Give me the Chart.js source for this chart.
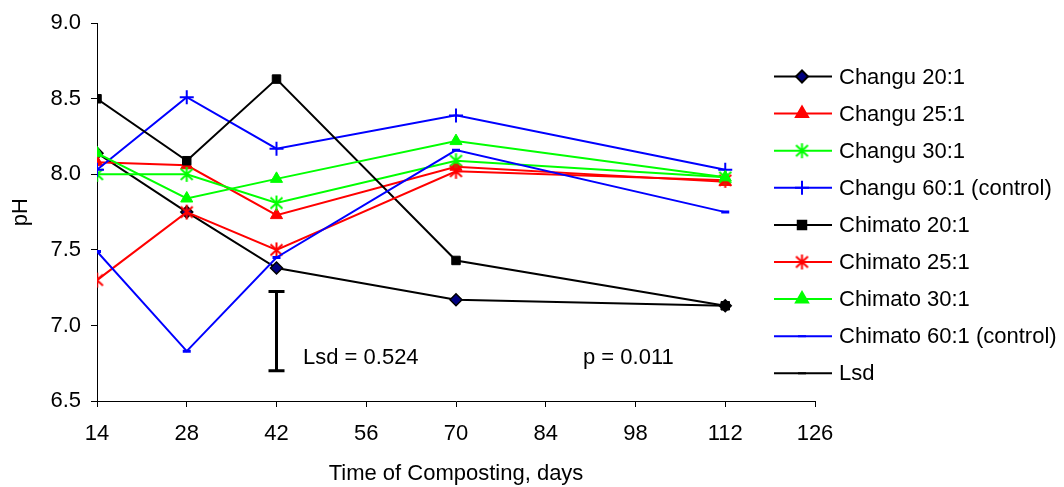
<!DOCTYPE html>
<html>
<head>
<meta charset="utf-8">
<script src="https://cdn.jsdelivr.net/npm/chart.js@4/dist/chart.umd.min.js"></script>
<style>
  html, body { margin: 0; padding: 0; background: #fff; }
  #c { display: block; }
</style>
</head>
<body>
<canvas id="c" width="1064" height="487"></canvas>
<script>
// ── Data (pH readings by day of composting) ────────────────
const days = [14, 28, 42, 70, 112];
const xTicks = [14, 28, 42, 56, 70, 84, 98, 112, 126];

const changu20  = [8.14, 7.75, 7.38, 7.17, 7.13];
const changu25  = [8.08, 8.06, 7.73, 8.05, 7.95];
const changu30  = [8.00, 8.00, 7.81, 8.09, 7.98];
const changu60  = [8.03, 8.51, 8.17, 8.39, 8.03];
const chimato20 = [8.50, 8.09, 8.63, 7.43, 7.13];
const chimato25 = [7.30, 7.75, 7.50, 8.02, 7.96];
const chimato30 = [8.14, 7.84, 7.97, 8.22, 7.98];
const chimato60 = [7.49, 6.83, 7.45, 8.16, 7.75];
const lsdDay = 42;
const lsdRange = [6.70, 7.224];

const FONT = 'Liberation Sans, Arial, sans-serif';
const FS = 22;

// asterisk marker (vertical stroke + an X), like the spreadsheet one
function asterisk(color) {
  const cv = document.createElement('canvas');
  cv.width = 17; cv.height = 17;
  const g = cv.getContext('2d');
  g.strokeStyle = color; g.lineWidth = 2;
  g.beginPath();
  g.moveTo(8.5, 1); g.lineTo(8.5, 16);
  g.moveTo(2.5, 3); g.lineTo(14.5, 14);
  g.moveTo(14.5, 3); g.lineTo(2.5, 14);
  g.stroke();
  return cv;
}

const pts = arr => arr.map((v, i) => ({ x: days[i], y: v }));

const series = [
  { label: 'Changu 20:1',            data: changu20,  color: '#000000', style: 'rectRot',  r: 6, fill: '#000080', bw: 1.5 },
  { label: 'Changu 25:1',            data: changu25,  color: '#ff0000', style: 'triangle', r: 7, fill: '#ff0000', bw: 1 },
  { label: 'Changu 30:1',            data: changu30,  color: '#00ff00', style: asterisk('#00ff00'), r: 8, fill: '#00ff00', bw: 1 },
  { label: 'Changu 60:1 (control)',  data: changu60,  color: '#0000ff', style: 'cross',    r: 7, fill: '#0000ff', bw: 2 },
  { label: 'Chimato 20:1',           data: chimato20, color: '#000000', style: 'rect',     r: 6, fill: '#000000', bw: 1 },
  { label: 'Chimato 25:1',           data: chimato25, color: '#ff0000', style: asterisk('#ff0000'), r: 8, fill: '#ff0000', bw: 1 },
  { label: 'Chimato 30:1',           data: chimato30, color: '#00ff00', style: 'triangle', r: 7, fill: '#00ff00', bw: 1 },
  { label: 'Chimato 60:1 (control)', data: chimato60, color: '#0000ff', style: 'line',     r: 4, fill: '#0000ff', bw: 3 }
];

const datasets = series.map((s, i) => ({
  label: s.label,
  data: pts(s.data),
  borderColor: s.color,
  borderWidth: 2,
  pointStyle: s.style,
  pointRadius: s.r,
  pointBackgroundColor: s.fill,
  pointBorderColor: s.color,
  pointBorderWidth: s.bw,
  tension: 0,
  order: 20 - i          // later series drawn on top, as in the original
}));

datasets.push({
  label: 'Lsd',
  data: lsdRange.map(v => ({ x: lsdDay, y: v })),
  borderColor: '#000000',
  borderWidth: 3,
  pointStyle: 'line',
  pointRadius: 8,
  pointBorderColor: '#000000',
  pointBorderWidth: 3,
  order: 0
});

// ── Legend + text notes drawn on the canvas ────────────────
const notes = {
  id: 'notes',
  afterDraw(chart) {
    const ctx = chart.ctx;
    ctx.save();
    ctx.font = FS + 'px ' + FONT;
    ctx.fillStyle = '#000';
    ctx.textBaseline = 'middle';
    ctx.textAlign = 'left';
    ctx.fillText('Lsd = 0.524', 303, 358);
    ctx.fillText('p = 0.011', 583, 358);

    const rowY0 = 76.5, rowH = 37.1;
    chart.data.datasets.forEach((d, i) => {
      const y = rowY0 + i * rowH;
      ctx.strokeStyle = d.borderColor;
      ctx.lineWidth = 2;
      ctx.beginPath();
      ctx.moveTo(774, y); ctx.lineTo(832, y);
      ctx.stroke();
      ctx.fillStyle = d.pointBackgroundColor || d.borderColor;
      ctx.strokeStyle = d.pointBorderColor;
      const isLsd = d.label === 'Lsd';
      Chart.helpers.drawPoint(ctx, {
        pointStyle: d.pointStyle,
        radius: isLsd ? 4 : d.pointRadius,
        borderWidth: isLsd ? 4 : d.pointBorderWidth,
        rotation: 0
      }, 802, y);
      ctx.fillStyle = '#000';
      ctx.fillText(d.label, 839, y + 1);
    });
    ctx.restore();
  }
};

new Chart(document.getElementById('c').getContext('2d'), {
  type: 'line',
  data: { datasets },
  plugins: [notes],
  options: {
    responsive: false,
    animation: false,
    devicePixelRatio: 1,
    layout: { padding: { left: 0, top: 21, right: 249, bottom: 0 } },
    plugins: { legend: { display: false }, tooltip: { enabled: false } },
    scales: {
      x: {
        type: 'linear', min: 14, max: 126,
        afterBuildTicks: s => { s.ticks = xTicks.map(v => ({ value: v })); },
        afterFit: s => { s.height = 86; },
        border: { display: true, color: '#000', width: 1 },
        grid: { drawOnChartArea: false, drawTicks: true, tickLength: 6, color: '#000' },
        ticks: { color: '#000', padding: 14, font: { size: FS, family: FONT } },
        title: { display: true, text: 'Time of Composting, days', color: '#000',
                 font: { size: FS, family: FONT }, padding: { top: 0, bottom: 0 } }
      },
      y: {
        min: 6.5, max: 9.0,
        ticks: { stepSize: 0.5, color: '#000', padding: 10, font: { size: FS, family: FONT },
                 callback: v => Number(v).toFixed(1) },
        afterFit: s => { s.width = 97; },
        border: { display: true, color: '#000', width: 1 },
        grid: { drawOnChartArea: false, drawTicks: true, tickLength: 6, color: '#000' },
        title: { display: true, text: 'pH', color: '#000',
                 font: { size: FS, family: FONT }, padding: { top: 8, bottom: 0 } }
      }
    }
  }
});
</script>
</body>
</html>
